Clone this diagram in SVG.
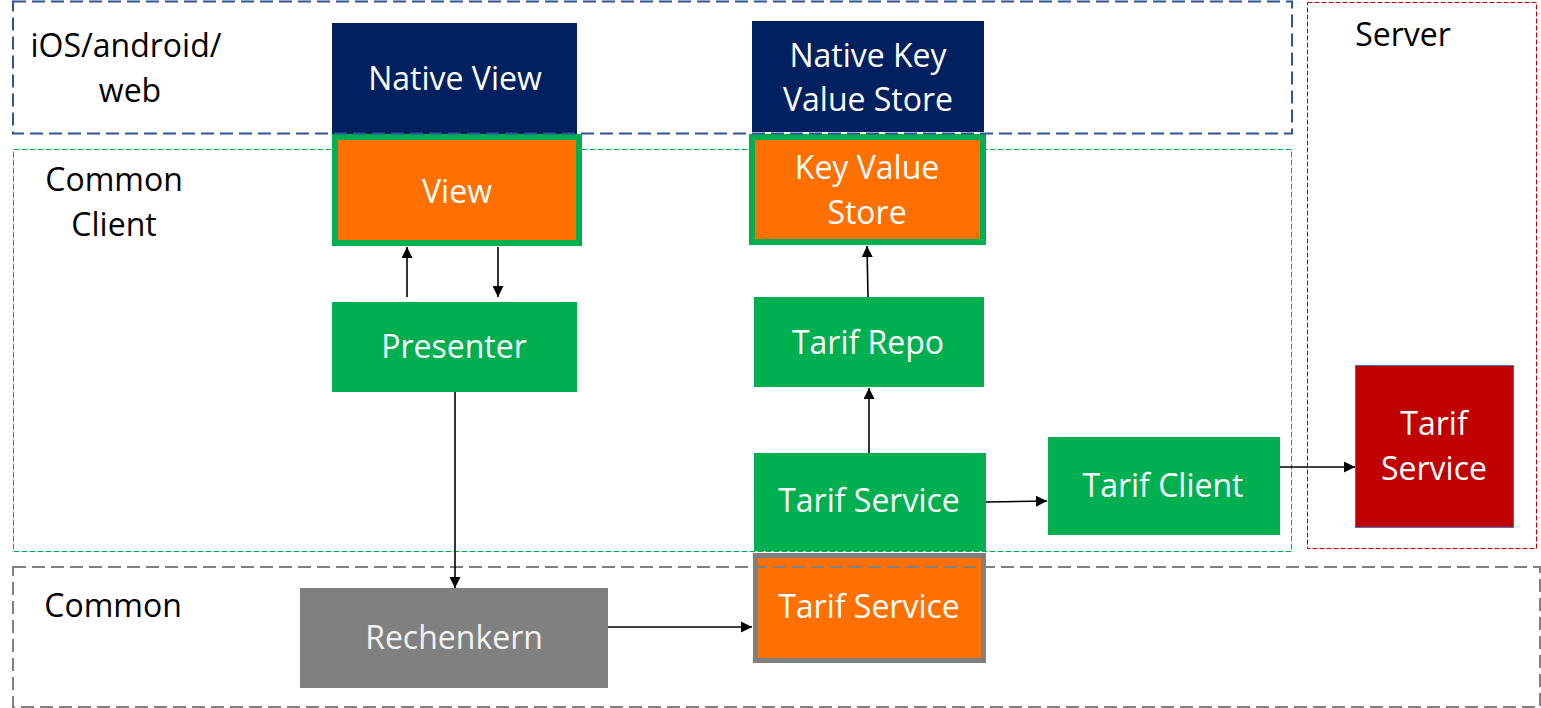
<svg xmlns="http://www.w3.org/2000/svg" width="1541" height="708" viewBox="0 0 1541 708">
<style>
.lbl{font-family:"Open Sans","Noto Sans",sans-serif;font-size:32px;fill:#000;text-anchor:middle}
.wt{font-family:"Open Sans","Noto Sans",sans-serif;font-size:32px;fill:#fff;text-anchor:middle}
.navy{fill:#002060}
.orange{fill:#FF7000}
.green{fill:#00B050}
.conn{stroke:#000;stroke-width:1.6;fill:none;marker-end:url(#ah)}
</style>
<defs>
<marker id="ah" viewBox="0 0 10 10" refX="10" refY="5" markerWidth="6.5" markerHeight="6.5" markerUnits="userSpaceOnUse" orient="auto">
<path d="M0,0 L10,5 L0,10 z" fill="#000"/>
</marker>
<marker id="ah2" viewBox="0 0 10 10" refX="10" refY="5" markerWidth="11" markerHeight="11" markerUnits="userSpaceOnUse" orient="auto">
<path d="M0,0 L10,5 L0,10 z" fill="#000"/>
</marker>
</defs>
<rect width="1541" height="708" fill="#fff"/>

<g id="container-common-client">
<rect x="13.5" y="149.5" width="1278" height="402" fill="none" stroke="#00B050" stroke-width="1" stroke-dasharray="6,2"/>
<text class="lbl" x="114" y="191">Common</text>
<text class="lbl" x="114" y="236">Client</text>
</g>
<g id="container-server">
<rect x="1307.5" y="2.5" width="229" height="546" fill="none" stroke="#C00000" stroke-width="1" stroke-dasharray="5,2"/>
<text class="lbl" x="1403" y="46">Server</text>
</g>
<g id="container-platform-labels">
<text class="lbl" x="126" y="57">iOS/android/</text>
<text class="lbl" x="130" y="102">web</text>
</g>
<g id="container-common-label">
<text class="lbl" x="113" y="617">Common</text>
</g>

<g id="native-view">
<rect class="navy" x="332" y="23" width="245" height="111"/>
<text class="wt" x="455" y="90">Native View</text>
</g>
<g id="view">
<rect class="orange" x="335" y="137" width="244" height="106" stroke="#00B050" stroke-width="6"/>
<text class="wt" x="457" y="203">View</text>
</g>
<g id="native-kv-store">
<rect class="navy" x="752" y="21" width="232" height="111"/>
<text class="wt" x="868" y="67">Native Key</text>
<text class="wt" x="868" y="111">Value Store</text>
</g>
<g id="kv-store">
<rect class="orange" x="752" y="137" width="231" height="105" stroke="#00B050" stroke-width="6"/>
<text class="wt" x="867" y="179">Key Value</text>
<text class="wt" x="867" y="224">Store</text>
</g>
<g id="presenter">
<rect class="green" x="332" y="302" width="245" height="90"/>
<text class="wt" x="454" y="358">Presenter</text>
</g>
<g id="tarif-repo">
<rect class="green" x="754" y="297" width="230" height="90"/>
<text class="wt" x="868" y="354">Tarif Repo</text>
</g>
<g id="tarif-service-client">
<rect class="green" x="754" y="453" width="232" height="98"/>
<text class="wt" x="869" y="512">Tarif Service</text>
</g>
<g id="tarif-client">
<rect class="green" x="1048" y="437" width="232" height="98"/>
<text class="wt" x="1163" y="497">Tarif Client</text>
</g>
<g id="tarif-service-server">
<rect x="1355.5" y="365.5" width="158" height="162" fill="#C00000" stroke="#4472C4" stroke-width="1"/>
<text class="wt" x="1434" y="435">Tarif</text>
<text class="wt" x="1434" y="480">Service</text>
</g>
<g id="rechenkern">
<rect x="300" y="588" width="308" height="100" fill="#808080"/>
<text class="wt" x="454" y="649" style="fill:#F2F2F2">Rechenkern</text>
</g>
<g id="tarif-service-common">
<rect class="orange" x="755.5" y="555.5" width="228" height="105" stroke="#808080" stroke-width="5"/>
<text class="wt" x="869" y="618">Tarif Service</text>
</g>

<g id="container-frames">
<rect x="13" y="1.5" width="1279" height="132" fill="none" stroke="#2F5597" stroke-width="2" stroke-dasharray="13,6"/>
<rect x="13" y="567" width="1527" height="140" fill="none" stroke="#808080" stroke-width="2" stroke-dasharray="13,6"/>
</g>

<g id="connectors">
<line class="conn" x1="407" y1="297" x2="407" y2="247" style="marker-end:url(#ah2)"/>
<line class="conn" x1="498" y1="247" x2="498" y2="297" style="marker-end:url(#ah2)"/>
<line class="conn" x1="455" y1="392" x2="455" y2="588" style="marker-end:url(#ah2)"/>
<line class="conn" x1="608" y1="627" x2="752" y2="627" style="marker-end:url(#ah2)"/>
<line class="conn" x1="868" y1="297" x2="867" y2="246" style="marker-end:url(#ah2)"/>
<line class="conn" x1="869" y1="453" x2="869" y2="388" style="marker-end:url(#ah2)"/>
<line class="conn" x1="986" y1="502" x2="1047" y2="501" style="marker-end:url(#ah2)"/>
<line class="conn" x1="1280" y1="467" x2="1355" y2="467" style="marker-end:url(#ah2)"/>
</g>
</svg>
